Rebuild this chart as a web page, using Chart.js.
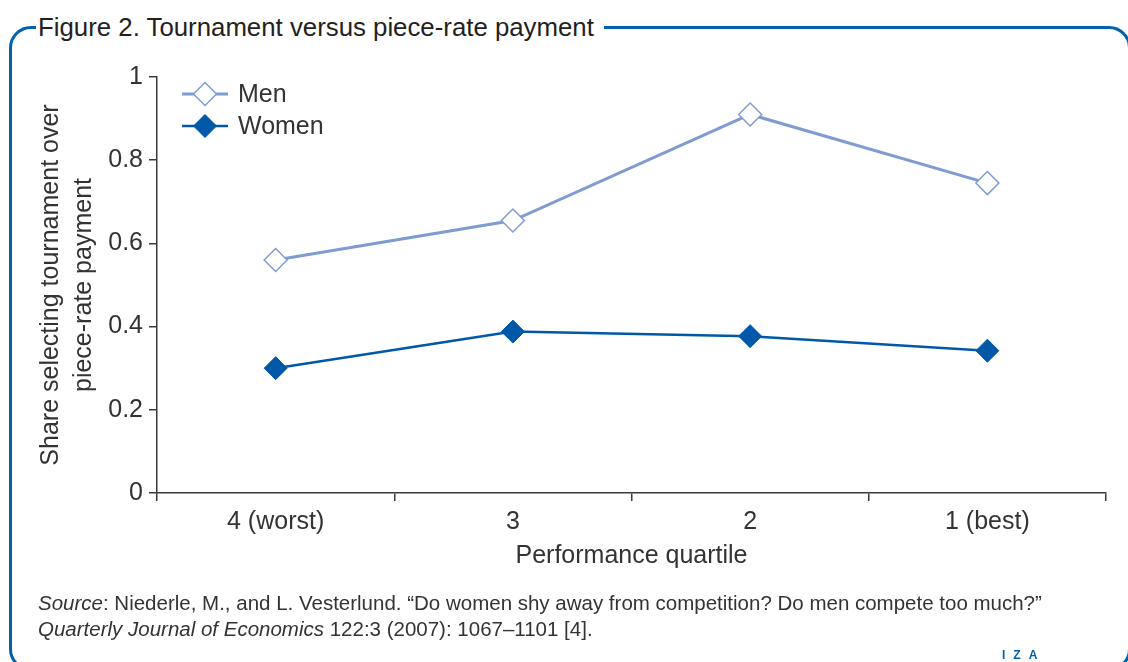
<!DOCTYPE html>
<html>
<head>
<meta charset="utf-8">
<script src="https://cdn.jsdelivr.net/npm/chart.js@4/dist/chart.umd.min.js"></script>
<style>
  body { margin: 0; width: 1128px; height: 662px; overflow: hidden; position: relative; background: #fff;
         font-family: "Liberation Sans", Arial, sans-serif; color: #231f20; }
  #frame { position: absolute; left: 9px; top: 25.5px; width: 1122px; height: 645px;
           border: 3px solid #0061b1; border-radius: 22px; box-sizing: border-box; }
  #title { position: absolute; left: 36px; top: 12px; padding: 0 10px 0 2px; background: #fff;
           font-size: 25.8px; line-height: 30px; white-space: nowrap; }
  #source { position: absolute; left: 38px; top: 590px; font-size: 20.5px; line-height: 26px; color: #333;
            white-space: nowrap; }
  #iza { position: absolute; left: 1002px; top: 649px; font-size: 12px; line-height: 12px; font-weight: bold;
         letter-spacing: 8px; color: #0061b1; }
  #chart { position: absolute; left: 0; top: 0; }
</style>
</head>
<body>
<div id="frame"></div>
<div id="title">Figure 2. Tournament versus piece-rate payment</div>
<canvas id="chart" width="1128" height="662"></canvas>
<div id="source"><i>Source</i>: Niederle, M., and L. Vesterlund. “Do women shy away from competition? Do men compete too much?”<br><i>Quarterly Journal of Economics</i> 122:3 (2007): 1067–1101 [4].</div>
<div id="iza">IZA</div>

<script>
// values
var quartiles = ["4 (worst)", "3", "2", "1 (best)"];
var menShare = [0.56, 0.655, 0.91, 0.745];
var womenShare = [0.30, 0.388, 0.377, 0.342];
var yTicks = [0, 0.2, 0.4, 0.6, 0.8, 1];

var axisColor = "#3a3a3a";
var textColor = "#333";

function diamond(ctx, x, y, r){
  ctx.beginPath();
  ctx.moveTo(x, y - r);
  ctx.lineTo(x + r, y);
  ctx.lineTo(x, y + r);
  ctx.lineTo(x - r, y);
  ctx.closePath();
}

// legend sits inside the plot, top left
var insideLegend = {
  id: "insideLegend",
  afterDraw: function(chart){
    var ctx = chart.ctx;
    chart.data.datasets.forEach(function(ds, i){
      var y = 94 + i * 32;
      ctx.save();
      ctx.strokeStyle = ds.borderColor;
      ctx.lineWidth = ds.borderWidth;
      ctx.beginPath();
      ctx.moveTo(182, y);
      ctx.lineTo(228, y);
      ctx.stroke();
      diamond(ctx, 205, y, ds.pointRadius);
      ctx.fillStyle = ds.pointBackgroundColor;
      ctx.fill();
      ctx.lineWidth = ds.pointBorderWidth;
      ctx.strokeStyle = ds.pointBorderColor;
      ctx.stroke();
      ctx.fillStyle = textColor;
      ctx.font = "25px 'Liberation Sans', Arial, sans-serif";
      ctx.textBaseline = "middle";
      ctx.fillText(ds.label, 238, y + 1);
      ctx.restore();
    });
  }
};

var chartData = {
  labels: quartiles,
  datasets: [
    {
      label: "Men",
      data: menShare,
      borderColor: "#7f9bd1",
      borderWidth: 3,
      pointStyle: "rectRot",
      pointRadius: 11.5,
      pointBackgroundColor: "#fff",
      pointBorderColor: "#7f9bd1",
      pointBorderWidth: 1.5,
      tension: 0
    },
    {
      label: "Women",
      data: womenShare,
      borderColor: "#0058a8",
      borderWidth: 2.5,
      pointStyle: "rectRot",
      pointRadius: 11.5,
      pointBackgroundColor: "#0058a8",
      pointBorderColor: "#0058a8",
      pointBorderWidth: 1,
      tension: 0
    }
  ]
};

var options = {
  responsive: false,
  animation: false,
  layout: { padding: { left: 0, top: 77, right: 22, bottom: 87 } },
  plugins: { legend: { display: false }, tooltip: { enabled: false } },
  scales: {
    x: {
      offset: true,
      grid: { offset: true, drawOnChartArea: false, drawTicks: true, tickLength: 8, color: axisColor, lineWidth: 1.5 },
      border: { color: axisColor, width: 1.5 },
      ticks: { color: textColor, padding: 6, font: { size: 25 } },
      title: { display: true, text: "Performance quartile", color: textColor,
               font: { size: 25 }, padding: { top: -2, bottom: 4 } }
    },
    y: {
      min: 0,
      max: 1,
      afterFit: function(scale){ scale.width = 157; },
      afterBuildTicks: function(scale){ scale.ticks = yTicks.map(function(v){ return { value: v }; }); },
      grid: { drawOnChartArea: false, drawTicks: true, tickLength: 8, color: axisColor, lineWidth: 1.5 },
      border: { color: axisColor, width: 1.5 },
      ticks: { color: textColor, padding: 6, font: { size: 25 },
               callback: function(value){ return String(value); } },
      title: { display: true, text: ["Share selecting tournament over", "piece-rate payment"], color: textColor,
               font: { size: 25, lineHeight: 1.3 }, padding: { top: 35, bottom: 0 } }
    }
  }
};

Chart.defaults.font.family = "'Liberation Sans', Arial, sans-serif";

var ctx = document.getElementById("chart");
var myChart = new Chart(ctx, {
  type: "line",
  data: chartData,
  options: options,
  plugins: [insideLegend]
});
</script>
</body>
</html>
